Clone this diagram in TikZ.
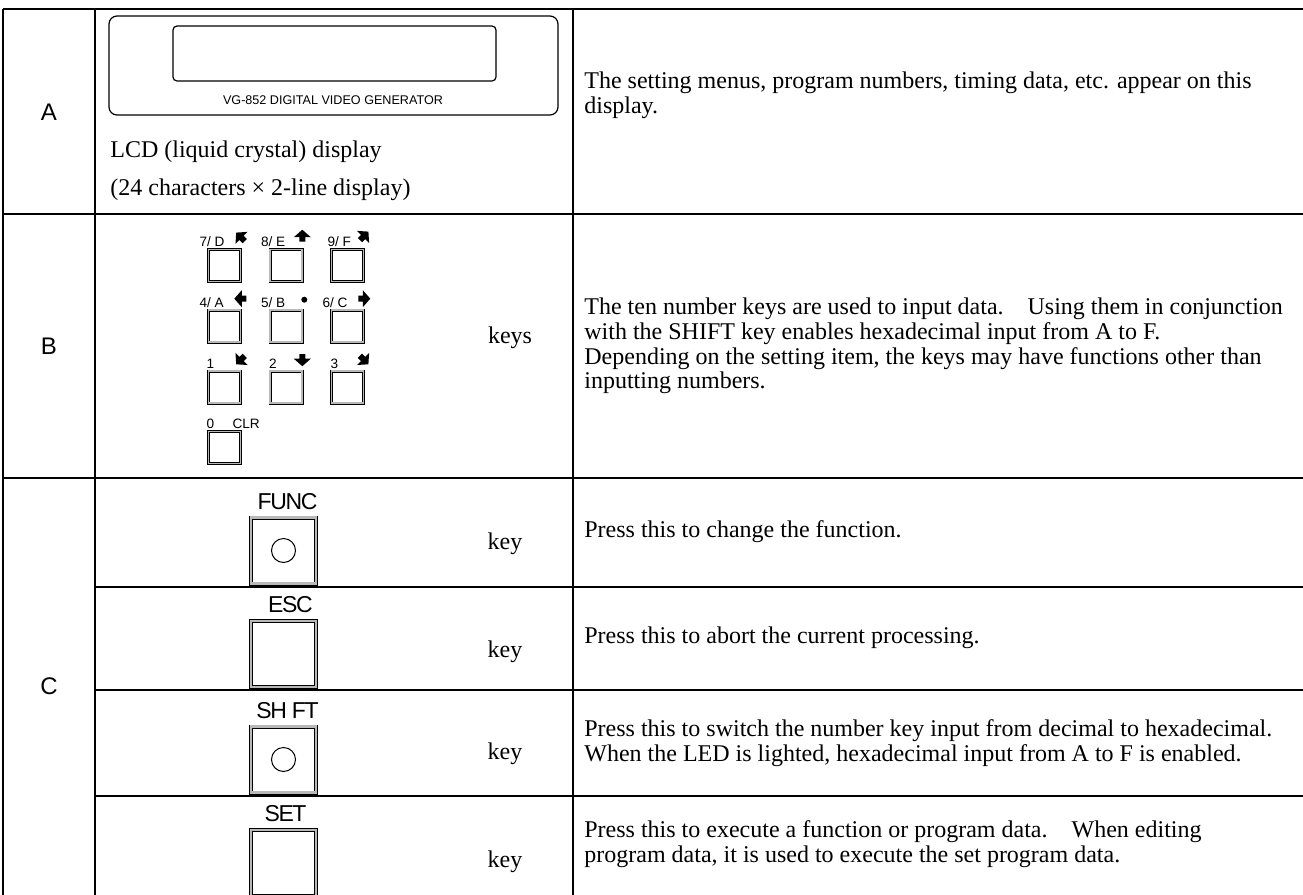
\documentclass[tikz,border=0pt]{standalone}
\usepackage{fontspec}
\setmainfont{Liberation Serif}
\setsansfont{Liberation Sans}
\newfontfamily\keyfont[LetterSpace=-6]{Liberation Sans}
\usetikzlibrary{positioning}

\tikzset{
  rule/.style={line width=1.1pt},
  rowname/.style={font=\sffamily\fontsize{12}{14}\selectfont},
  desc/.style={anchor=west, align=left, inner sep=0pt, font=\fontsize{12}{12.4}\selectfont},
  keyword/.style={inner sep=0pt, font=\fontsize{12}{13}\selectfont},
  padkey/.style={draw=black, double=gray!55, line width=0.3pt, double distance=0.9pt, minimum size=16pt, inner sep=0pt},
  padlabel/.style={inner sep=0pt, anchor=south west, font=\sffamily\fontsize{6.8}{8}\selectfont},
  bigkey/.style={draw=black, double=gray!55, line width=0.4pt, double distance=1.2pt, minimum width=32.5pt, minimum height=33pt, inner sep=0pt},
  keyname/.style={inner sep=0pt, font=\keyfont\fontsize{11.5}{12}\selectfont},
  padarrow/.pic={\fill (0,-6.5) -- (8.5,1) -- (3,1) -- (3,5.5) -- (-3,5.5) -- (-3,1) -- (-8.5,1) -- cycle;}
}

\begin{document}
\begin{tikzpicture}[x=0.5pt, y=-0.5pt]
\useasboundingbox (0,0) rectangle (1303,895);
\clip (0,0) rectangle (1303,895);

% table rules
\draw[rule] (3,9) -- (1303,9);
\draw[rule] (3,214) -- (1303,214);
\draw[rule] (3,478) -- (1303,478);
\foreach \y in {587,690,796}
  \draw[rule] (95,\y) -- (1303,\y);
\foreach \x in {3,95,573}
  \draw[rule] (\x,9) -- (\x,895);

% row names
\node[rowname] (rowA) at (49,112) {A};
\node[rowname] (rowB) at (49,346) {B};
\node[rowname] (rowC) at (49,686) {C};

% LCD panel
\draw[line width=0.6pt, rounded corners=4pt] (109,16) rectangle (558,115);
\draw[line width=0.6pt, rounded corners=2pt] (173,26) rectangle (496,81);
\node[inner sep=0pt, font=\sffamily\fontsize{6.3}{7}\selectfont] (model) at (333,100) {VG-852 DIGITAL VIDEO GENERATOR};
\node[desc] (lcd) at (110,152) {LCD (liquid crystal) display};
\node[desc] (lcdsize) at (110,190) {(24 characters × 2-line display)};

% ten keys
\node[padkey] (k7) at (224.5,265.5) {};
\node[padkey] (k8) at (286,265.5) {};
\node[padkey] (k9) at (347.5,265.5) {};
\node[padkey] (k4) at (224.5,326) {};
\node[padkey] (k5) at (286,326) {};
\node[padkey] (k6) at (347.5,326) {};
\node[padkey] (k1) at (224.5,387) {};
\node[padkey] (k2) at (286,387) {};
\node[padkey] (k3) at (347.5,387) {};
\node[padkey] (k0) at (224.5,447.5) {};

\node[padlabel] (l7) at ([xshift=-4.5pt,yshift=1pt]k7.north west) {7/ D};
\node[padlabel] (l8) at ([xshift=-4.5pt,yshift=1pt]k8.north west) {8/ E};
\node[padlabel] (l9) at ([xshift=-2pt,yshift=1pt]k9.north west) {9/ F};
\node[padlabel] (l4) at ([xshift=-4.5pt,yshift=1pt]k4.north west) {4/ A};
\node[padlabel] (l5) at ([xshift=-4.5pt,yshift=1pt]k5.north west) {5/ B};
\node[padlabel] (l6) at ([xshift=-4.5pt,yshift=1pt]k6.north west) {6/ C};
\node[padlabel] (l1) at ([xshift=-1pt,yshift=1pt]k1.north west) {1};
\node[padlabel] (l2) at ([xshift=-0.5pt,yshift=1pt]k2.north west) {2};
\node[padlabel] (l3) at ([xshift=-0.5pt,yshift=1pt]k3.north west) {3};
\node[padlabel] (l0) at ([xshift=-1pt,yshift=1pt]k0.north west) {0};
\node[padlabel] (lclr) at ([xshift=12pt,yshift=1pt]k0.north west) {CLR};

% cursor marks
\pic[rotate=45] at ([yshift=6pt]k7.north east) {padarrow};
\pic at ([yshift=6.5pt]k8.north east) {padarrow};
\pic[rotate=-45] at ([yshift=6.5pt]k9.north east) {padarrow};
\pic[rotate=90] at ([yshift=5.5pt]k4.north east) {padarrow};
\fill ([xshift=1pt,yshift=5pt]k5.north east) circle (1.5pt);
\pic[rotate=-90] at ([yshift=5.5pt]k6.north east) {padarrow};
\pic[rotate=135] at ([yshift=5.5pt]k1.north east) {padarrow};
\pic[rotate=180] at ([yshift=5.5pt]k2.north east) {padarrow};
\pic[rotate=-135] at ([yshift=5.5pt]k3.north east) {padarrow};

\node[keyword] (tenkeys) at (510,338) {keys};

% function keys
\node[bigkey] (func) at (283.5,550.5) {};
\node[bigkey] (esc) at (283.5,654) {};
\node[bigkey] (shift) at (283.5,759.5) {};
\node[bigkey] (set) at (283.5,863) {};
\draw[line width=0.5pt] (func.center) circle (6pt);
\draw[line width=0.5pt] (shift.center) circle (6pt);

\node[keyname, above=3.5pt of func, xshift=2pt] (funcname) {FUNC};
\node[keyname, above=3.5pt of esc, xshift=3.5pt] (escname) {ESC};
\node[keyname, above=3.5pt of shift, xshift=2pt] (shiftname) {SH FT};
\node[keyname, above=3.5pt of set, xshift=1pt] (setname) {SET};

\node[keyword] (funckey) at (505,544) {key};
\node[keyword] (esckey) at (505,652) {key};
\node[keyword] (shiftkey) at (505,754) {key};
\node[keyword] (setkey) at (505,862) {key};

% descriptions
\node[desc] (descA) at (584,95) {The setting menus, program numbers, timing data, etc. appear on this\\display.};
\node[desc] (descB) at (584,346) {The ten number keys are used to input data.\quad Using them in conjunction\\with the SHIFT key enables hexadecimal input from A to F.\\Depending on the setting item, the keys may have functions other than\\inputting numbers.};
\node[desc] (descF) at (584,532) {Press this to change the function.};
\node[desc] (descE) at (584,638) {Press this to abort the current processing.};
\node[desc] (descS) at (584,743) {Press this to switch the number key input from decimal to hexadecimal.\\When the LED is lighted, hexadecimal input from A to F is enabled.};
\node[desc] (descT) at (584,844) {Press this to execute a function or program data.\quad When editing\\program data, it is used to execute the set program data.};

\end{tikzpicture}
\end{document}
